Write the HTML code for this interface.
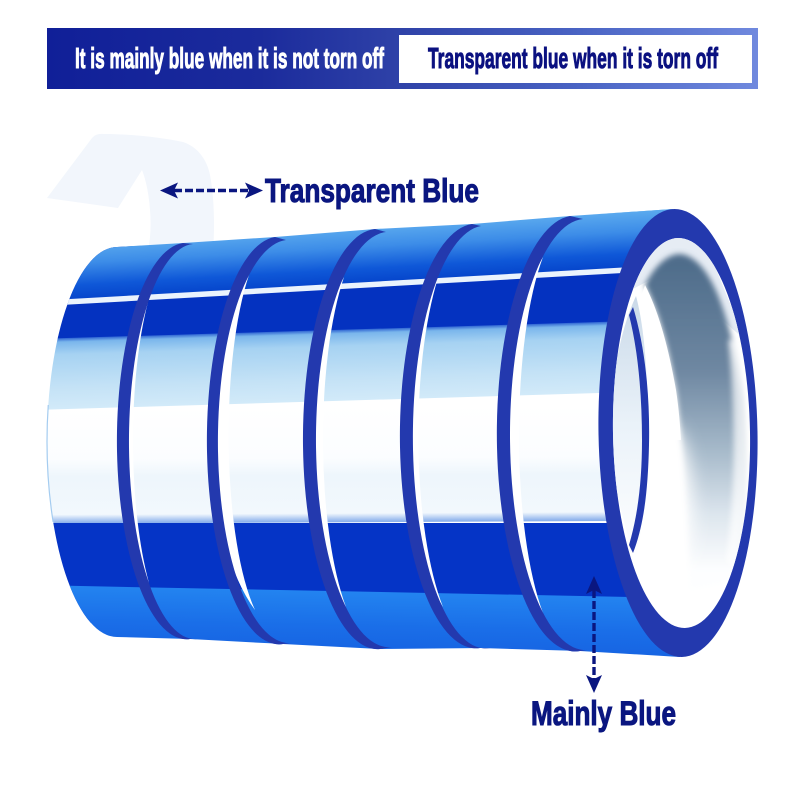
<!DOCTYPE html>
<html><head><meta charset="utf-8"><style>html,body{margin:0;padding:0;background:#fff}svg{display:block}text{font-family:"Liberation Sans",sans-serif;font-weight:700}</style></head>
<body>
<svg width="800" height="800" viewBox="0 0 800 800" xmlns="http://www.w3.org/2000/svg">
<defs>
<linearGradient id="hdr" x1="0" x2="1" y1="0" y2="0"><stop offset="0" stop-color="#101f98"/><stop offset=".3" stop-color="#1b2b9c"/><stop offset=".5" stop-color="#2f42a8"/><stop offset=".75" stop-color="#4a64c4"/><stop offset="1" stop-color="#7089de"/></linearGradient>
<linearGradient id="gTop" gradientUnits="userSpaceOnUse" x1="0" x2="0" y1="248" y2="303"><stop offset="0" stop-color="#5aa9ee"/><stop offset=".35" stop-color="#3d8de8"/><stop offset=".75" stop-color="#0f58d8"/><stop offset="1" stop-color="#0646cc"/></linearGradient>
<linearGradient id="gFade" gradientUnits="userSpaceOnUse" x1="0" x2="0" y1="338" y2="411"><stop offset="0" stop-color="#0a3cc6"/><stop offset=".08" stop-color="#7ab6ec"/><stop offset=".25" stop-color="#a6d2f2"/><stop offset=".7" stop-color="#c4e2f6"/><stop offset="1" stop-color="#d2eaf9"/></linearGradient>
<linearGradient id="gWhite" gradientUnits="userSpaceOnUse" x1="0" x2="0" y1="408" y2="523"><stop offset="0" stop-color="#fff"/><stop offset=".45" stop-color="#fbfdff"/><stop offset=".6" stop-color="#eef6fc"/><stop offset=".93" stop-color="#f2f8fd"/><stop offset="1" stop-color="#8db2ec"/></linearGradient>
<linearGradient id="gLow" gradientUnits="userSpaceOnUse" x1="0" x2="0" y1="584" y2="655"><stop offset="0" stop-color="#2384f0"/><stop offset=".5" stop-color="#1a6ee8"/><stop offset="1" stop-color="#1560e0"/></linearGradient>
<linearGradient id="gCore" gradientUnits="userSpaceOnUse" x1="0" x2="0" y1="265" y2="570"><stop offset="0" stop-color="#4f6d8b"/><stop offset=".35" stop-color="#6f88a2"/><stop offset=".62" stop-color="#a9bccc"/><stop offset=".82" stop-color="#dde6ee"/><stop offset="1" stop-color="#fdfeff"/></linearGradient>
<linearGradient id="gIn" gradientUnits="userSpaceOnUse" x1="0" x2="0" y1="290" y2="560"><stop offset="0" stop-color="#c8d8e8"/><stop offset=".5" stop-color="#eaf2f9"/><stop offset="1" stop-color="#fff"/></linearGradient>
<filter id="bl" x="-20%" y="-20%" width="140%" height="140%"><feGaussianBlur stdDeviation="3"/></filter>
<filter id="bl2" x="-60%" y="-30%" width="220%" height="160%"><feGaussianBlur stdDeviation="9"/></filter>
<clipPath id="inner"><ellipse cx="681.5" cy="433" rx="68.5" ry="195" transform="rotate(-1 681.5 433)"/></clipPath>
<clipPath id="whiteZone"><rect x="30" y="405" width="60" height="117"/></clipPath>
<clipPath id="bodies">
<path d="M117,247 A70 195 0 0 0 117,637 L190,639 L183,243 Z"/>
<path d="M183,243 A69.5 198 0 0 0 190,639 L283,644 L275,237 Z"/>
<path d="M275,237 A72 203.5 0 0 0 283,644 L380,649 L375,229 Z"/>
<path d="M375,229 A74.5 210 0 0 0 380,649 L480,648 L472,224 Z"/>
<path d="M472,224 A76 212 0 0 0 480,648 L580,651 L570,216 Z"/>
<path d="M570,216 A78 217.5 0 0 0 580,651 L680,657 L673,209 Z"/>
</clipPath>
</defs>
<rect width="800" height="800" fill="#fff"/>

<!-- header -->
<rect x="47" y="28" width="711" height="61" fill="url(#hdr)"/>
<rect x="399" y="35" width="353" height="48" fill="#fff"/>
<text x="75" y="68" font-size="29" fill="#fff" stroke="#fff" stroke-width="1" textLength="309" lengthAdjust="spacingAndGlyphs">It is mainly blue when it is not torn off</text>
<text x="428" y="68" font-size="29" fill="#0b1180" stroke="#0b1180" stroke-width="1" textLength="290" lengthAdjust="spacingAndGlyphs">Transparent blue when it is torn off</text>

<!-- film -->
<path d="M47,198 L92,138 Q96,133 104,134 C130,134 160,137 183,142 C198,147 207,160 210,175 C214,195 215,225 213,252 L148,252 C151,235 151,222 150,210 C149,195 146,180 142,170 L118,208 Z" fill="#f2f6fc"/>

<!-- tape surface bands -->
<g clip-path="url(#bodies)">
<rect x="0" y="200" width="800" height="480" fill="#fff"/>
<rect x="0" y="408" width="800" height="116" fill="url(#gWhite)" transform="matrix(1 -.005 0 1 0 0)"/>
<rect x="0" y="523" width="800" height="100" fill="#0534c6"/>
<g transform="matrix(1 .02 0 1 0 0)"><rect x="0" y="584.4" width="800" height="90" fill="url(#gLow)"/></g>
<g transform="matrix(1 -.03 0 1 0 0)">
<rect x="0" y="338" width="800" height="73" fill="url(#gFade)"/>
<rect x="0" y="250" width="800" height="90" fill="#0432c0"/>
</g>
<g transform="matrix(1 -.057 0 1 0 0)">
<rect x="0" y="200" width="800" height="103" fill="url(#gTop)"/>
<rect x="0" y="200" width="800" height="48" fill="#5aa9ee"/>
<rect x="0" y="303" width="800" height="5.5" fill="#eaf3fd"/>
</g>
</g>
<path d="M117,247 A70 195 0 0 0 117,637" fill="none" stroke="#a4ccf0" stroke-width="1.2" clip-path="url(#whiteZone)"/>

<!-- white gaps -->
<g fill="#fff">
<path d="M148,302 A52.5 198 0 0 0 149,583 A80 198 0 0 1 148,302 Z"/>
<path d="M249,275 A51 200 0 0 0 255,610 A88 200 0 0 1 249,275 Z"/>
<path d="M344,277 A55.5 207 0 0 0 346,607 A91 207 0 0 1 344,277 Z"/>
<path d="M438,278 A59 211 0 0 0 443,607 A94 211 0 0 1 438,278 Z"/>
<path d="M543,257 A54.7 215 0 0 0 543,613 A91 215 0 0 1 543,257 Z"/>
</g>

<!-- ring bands -->
<g fill="#2339ae">
<path d="M183,243 A69.5 198 0 0 0 190,639 L197,639 A66 197.5 0 0 1 193,244 Z"/>
<path d="M275,237 A72 203.5 0 0 0 283,644 L293,643 A71.5 201.5 0 0 1 286,240 Z"/>
<path d="M375,229 A74.5 210 0 0 0 380,649 L392,647 A73 207.5 0 0 1 386,232 Z"/>
<path d="M472,224 A76 212 0 0 0 480,648 L490,648 A72.5 211 0 0 1 481,226 Z"/>
<path d="M570,216 A78 217.5 0 0 0 580,651 L588,650 A75.5 215.5 0 0 1 583,219 Z"/>
</g>

<!-- front face -->
<ellipse cx="678" cy="433" rx="79.5" ry="224" fill="#2339ae" transform="rotate(-1 678 433)"/>
<ellipse cx="681.5" cy="433" rx="68.5" ry="195" fill="#fff" transform="rotate(-1 681.5 433)"/>
<g clip-path="url(#inner)">
<path d="M612,300 L640,240 L700,230 L745,340 L700,300 L650,280 Z" fill="#e6ecf4"/>
<path d="M645,285 C655,265 668,254 680,254 C705,256 730,300 742,400 C746,460 745,520 735,580 L690,590 C685,500 682,430 676,390 C668,345 658,310 645,285 Z" fill="url(#gCore)" filter="url(#bl)"/>
<path d="M645,285 C658,310 668,345 676,390 C679,410 680,425 681,440 L640,440 L640,300 Z" fill="#fff"/>
<ellipse cx="668" cy="510" rx="24" ry="85" fill="#fff" filter="url(#bl2)"/>
<path d="M738,340 C750,400 750,500 735,570 L726,560 C736,490 736,410 728,340 Z" fill="#fff" opacity=".7" filter="url(#bl)"/>
<path d="M610,433 C612,360 625,320 636,296 C648,340 650,420 646,500 L636,560 C622,520 612,480 610,433 Z" fill="url(#gIn)"/>
<path d="M633,307 C646,350 650,400 649,445 C648,490 644,525 633,553 L629,545 C638,515 642,480 642,440 C642,395 638,350 629,315 Z" fill="#2339ae"/>
</g>

<!-- labels and arrows -->
<text x="265" y="202" font-size="33" fill="#0a1680" stroke="#0a1680" stroke-width="1.1" textLength="214" lengthAdjust="spacingAndGlyphs">Transparent Blue</text>
<line x1="174" y1="190.5" x2="248" y2="190.5" stroke="#0a1680" stroke-width="3.4" stroke-dasharray="8 3"/>
<path d="M160,190.5 L178,182.5 L174,190.5 L178,198.5 Z M263,190.5 L245,182.5 L249,190.5 L245,198.5 Z" fill="#0a1680"/>

<line x1="594" y1="590" x2="594" y2="680" stroke="#0a1680" stroke-width="3.4" stroke-dasharray="8 3"/>
<path d="M594,576 L586,594 L594,590 L602,594 Z M594,693 L586,675 L594,679 L602,675 Z" fill="#0a1680"/>
<text x="531" y="725" font-size="34" fill="#0a1680" stroke="#0a1680" stroke-width="1.1" textLength="145" lengthAdjust="spacingAndGlyphs">Mainly Blue</text>
</svg>
</body></html>
